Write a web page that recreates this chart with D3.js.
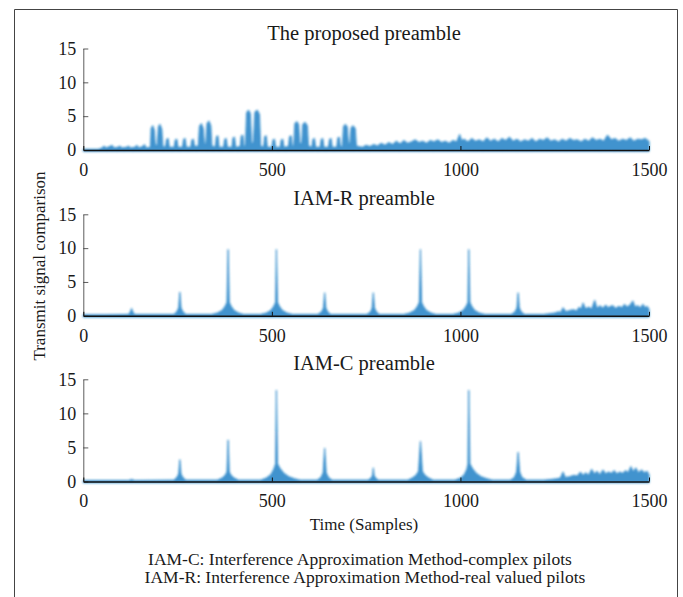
<!DOCTYPE html>
<html>
<head>
<meta charset="utf-8">
<script src="https://cdn.jsdelivr.net/npm/d3@7"></script>
<style>
  body { margin: 0; background: #fff; }
  svg text { font-family: "Liberation Serif", "DejaVu Serif", serif; fill: #1a1a1a; }
</style>
</head>
<body>
<div id="chart"></div>
<script>
// envelope of |signal|, [sample, amplitude]
const proposed = [
  [0,0.1],[40,0.1],[50,0.3],[55,0.6],[60,0.3],[70,0.5],[76,0.7],[82,0.3],[92,0.4],[97,0.6],[102,0.3],
  [115,0.4],[120,0.6],[125,0.3],[137,0.4],[142,0.7],[147,0.3],[157,0.5],[162,0.8],[167,0.3],
  [178,0.4],[180,3.2],[184,3.6],[188,3.0],[191,0.8],[196,0.6],[199,3.4],[203,3.8],[208,3.1],[211,0.5],
  [218,0.4],[221,1.6],[225,1.7],[228,0.4],[241,0.4],[244,1.5],[248,1.6],[251,0.4],
  [263,0.4],[266,1.6],[270,1.7],[273,0.4],[285,0.4],[288,1.5],[292,1.6],[295,0.5],
  [305,0.6],[308,3.5],[313,3.9],[318,3.2],[321,1.0],[325,0.8],[328,3.9],[333,4.3],[338,3.6],[341,0.6],
  [350,0.4],[353,2.0],[357,2.1],[360,0.4],[372,0.4],[375,1.6],[379,1.7],[382,0.4],
  [394,0.4],[397,1.8],[401,1.9],[404,0.4],[416,0.5],[419,2.1],[423,2.2],[426,0.5],
  [430,0.6],[433,5.5],[438,5.9],[443,5.4],[446,1.2],[451,0.9],[455,5.6],[461,5.9],[467,5.3],[470,0.6],
  [478,0.4],[481,2.0],[485,2.1],[488,0.4],[500,0.4],[503,1.5],[507,1.6],[510,0.4],
  [522,0.4],[525,1.5],[529,1.6],[532,0.4],[544,0.5],[547,2.0],[551,2.1],[554,0.5],
  [558,0.6],[561,3.9],[566,4.2],[571,3.8],[574,1.0],[579,0.9],[582,3.8],[588,4.1],[594,3.6],[597,0.6],
  [606,0.4],[609,1.6],[613,1.7],[616,0.4],[628,0.4],[631,1.6],[635,1.7],[638,0.4],
  [650,0.4],[653,1.6],[657,1.7],[660,0.4],[672,0.4],[675,1.8],[679,1.9],[682,0.4],
  [687,0.6],[690,3.5],[695,3.8],[700,3.4],[703,1.0],[707,0.9],[710,3.3],[715,3.6],[721,3.2],[724,0.6],
  [730,0.5],[740,0.4],[750,0.7],[760,0.5],[770,0.8],[780,0.6],[790,1.0],[800,0.7],[810,1.1],[820,0.8],
  [830,1.3],[840,0.9],[850,1.4],[860,1.0],[870,1.2],[880,1.5],[890,1.1],[900,1.3],[910,1.0],[920,1.4],
  [930,1.2],[940,1.5],[950,1.1],[960,1.3],[970,1.0],[980,1.4],[990,1.2],[998,2.3],[1003,1.4],[1010,1.6],
  [1020,1.2],[1030,1.7],[1040,1.3],[1050,1.5],[1060,1.2],[1070,1.8],[1080,1.3],[1090,1.6],[1100,1.2],
  [1110,1.7],[1120,1.4],[1130,1.9],[1140,1.3],[1150,1.6],[1160,1.2],[1170,1.5],[1180,1.3],[1190,1.7],
  [1200,1.2],[1210,1.6],[1220,1.4],[1230,1.8],[1240,1.3],[1250,1.5],[1260,1.2],[1270,1.6],[1280,1.3],
  [1290,1.7],[1300,1.4],[1310,1.5],[1320,1.2],[1330,1.6],[1340,1.3],[1350,1.8],[1360,1.4],[1370,1.6],
  [1380,1.3],[1390,2.2],[1400,1.5],[1410,1.7],[1420,1.3],[1430,1.6],[1440,1.4],[1450,1.8],[1460,1.3],
  [1470,1.6],[1480,1.5],[1490,1.7],[1500,1.3]
];

const iamR = [
  [0,0.15],[60,0.15],[120,0.2],[125,0.6],[128,1.1],[131,0.6],[136,0.2],
  [240,0.2],[248,0.6],[253,1.2],[256,3.5],[259,1.2],[264,0.6],[272,0.2],
  [340,0.2],[355,0.4],[368,0.8],[376,1.4],[381,2.0],[384,9.8],[387,2.0],[392,1.4],[400,0.8],[412,0.4],[425,0.2],
  [470,0.2],[485,0.4],[497,0.8],[505,1.4],[510,2.0],[512,9.8],[515,2.0],[520,1.4],[528,0.8],[540,0.4],[555,0.2],
  [622,0.2],[632,0.6],[637,1.2],[640,3.4],[643,1.2],[648,0.6],[656,0.2],
  [752,0.2],[762,0.6],[766,1.2],[769,3.4],[772,1.2],[777,0.6],[785,0.2],
  [850,0.2],[865,0.4],[878,0.8],[886,1.4],[891,2.0],[894,9.8],[897,2.0],[902,1.4],[910,0.8],[922,0.4],[935,0.2],
  [980,0.2],[995,0.4],[1007,0.8],[1015,1.4],[1020,2.0],[1022,9.8],[1025,2.0],[1030,1.4],[1038,0.8],[1050,0.4],[1065,0.2],
  [1135,0.2],[1145,0.6],[1150,1.2],[1153,3.4],[1156,1.2],[1161,0.6],[1170,0.2],
  [1220,0.2],[1235,0.3],[1250,0.4],[1260,0.6],[1266,0.5],[1272,1.2],[1280,0.6],[1290,0.8],[1300,0.9],
  [1308,0.7],[1315,1.3],[1320,0.9],[1325,1.9],[1332,1.0],[1340,1.3],[1348,1.0],[1356,2.3],[1362,1.1],
  [1370,1.5],[1378,1.1],[1385,1.6],[1392,1.2],[1398,1.4],[1404,1.5],[1412,1.1],[1420,1.4],[1428,1.2],
  [1435,1.7],[1442,1.3],[1450,1.6],[1457,2.2],[1463,1.3],[1470,1.5],[1477,1.2],[1484,1.7],[1490,1.2],
  [1495,1.4],[1500,1.0]
];

const iamC = [
  [0,0.15],[120,0.15],[128,0.3],[136,0.15],
  [240,0.2],[248,0.6],[253,1.1],[256,3.2],[259,1.1],[264,0.6],[272,0.2],
  [355,0.2],[368,0.5],[376,0.9],[381,1.4],[384,6.1],[387,1.4],[392,0.9],[400,0.5],[412,0.2],
  [470,0.2],[485,0.5],[497,1.0],[505,1.8],[510,2.6],[512,13.4],[515,2.6],[522,1.9],[532,1.2],[545,0.7],[560,0.4],[575,0.2],
  [620,0.2],[630,0.6],[636,1.3],[640,4.9],[644,1.3],[650,0.6],[660,0.2],
  [755,0.2],[763,0.5],[767,0.9],[769,2.0],[771,0.9],[775,0.5],[783,0.2],
  [860,0.2],[872,0.5],[882,0.9],[889,1.5],[894,5.9],[899,1.5],[906,0.9],[916,0.5],[928,0.2],
  [985,0.2],[1000,0.5],[1010,1.0],[1017,1.8],[1020,2.6],[1022,13.4],[1025,2.6],[1032,1.9],[1042,1.2],[1055,0.7],[1070,0.4],[1085,0.2],
  [1132,0.2],[1143,0.6],[1149,1.4],[1153,4.3],[1157,1.4],[1163,0.6],[1175,0.2],
  [1220,0.2],[1240,0.3],[1255,0.4],[1265,0.5],[1272,1.4],[1278,0.6],[1290,0.7],[1300,0.9],[1310,0.8],
  [1318,1.4],[1325,0.9],[1333,1.3],[1340,0.9],[1348,1.8],[1355,1.1],[1362,1.5],[1370,1.0],[1378,1.7],
  [1385,1.1],[1392,1.4],[1400,1.2],[1408,1.6],[1415,1.1],[1422,1.4],[1430,1.2],[1438,1.6],[1445,1.3],
  [1452,2.2],[1458,1.4],[1465,2.0],[1472,1.3],[1480,1.7],[1488,1.3],[1495,1.5],[1500,1.0]
];

const panelTitles = ["The proposed preamble", "IAM-R preamble", "IAM-C preamble"];
const xTicks = [0, 500, 1000, 1500];
const yTicks = [0, 5, 10, 15];
const footnotes = [
  "IAM-C: Interference Approximation Method-complex pilots",
  "IAM-R: Interference Approximation Method-real valued pilots"
];

const width = 683, height = 597;
const sigColor = "#1f80c6";
const serif = '"Liberation Serif", "DejaVu Serif", serif';

const svg = d3.select("#chart").append("svg")
  .attr("width", width)
  .attr("height", height);

const defs = svg.append("defs");
defs.append("filter").attr("id", "fuzz")
  .attr("x", "-5%").attr("y", "-20%").attr("width", "110%").attr("height", "140%")
  .append("feGaussianBlur").attr("stdDeviation", 1.0);

// frame (left, top, right)
svg.append("path")
  .attr("d", "M14.5,597V9.5H677.5V597")
  .attr("fill", "none")
  .attr("stroke", "#444")
  .attr("stroke-width", 1);

const x = d3.scaleLinear().domain([0, 1500]).range([83.3, 649]);

const panels = [
  { data: proposed, top: 48.5, bottom: 150 },
  { data: iamR, top: 214.3, bottom: 315.8 },
  { data: iamC, top: 379.3, bottom: 481.5 }
];

panels.forEach((p, i) => {
  const y = d3.scaleLinear().domain([0, 15]).range([p.bottom, p.top]);
  const g = svg.append("g");

  const area = d3.area()
    .x(d => x(d[0]))
    .y0(y(0) + 1.2)
    .y1(d => y(d[1]));

  const sig = g.append("g").attr("filter", "url(#fuzz)");
  sig.append("path")
    .attr("d", area(p.data))
    .attr("fill", sigColor)
    .attr("fill-opacity", 0.85)
    .attr("stroke", sigColor)
    .attr("stroke-width", 0.8);

  const yAxis = g.append("g")
    .attr("transform", `translate(${x(0)},0)`)
    .attr("font-family", serif)
    .call(d3.axisLeft(y).tickValues(yTicks).tickFormat(d3.format("d"))
      .tickSizeInner(-5).tickSizeOuter(0).tickPadding(7));
  yAxis.select(".domain").attr("stroke", "#333").attr("stroke-width", 0.8);
  yAxis.selectAll(".tick line").attr("stroke", "#333").attr("stroke-width", 0.8);
  yAxis.selectAll("text").attr("font-size", 18).style("font-family", serif).attr("fill", "#1a1a1a");

  const xAxis = g.append("g")
    .attr("transform", `translate(0,${y(0)})`)
    .attr("font-family", serif)
    .call(d3.axisBottom(x).tickValues(xTicks).tickFormat(d3.format("d"))
      .tickSizeInner(-4).tickSizeOuter(0).tickPadding(13));
  xAxis.select(".domain").attr("stroke", "#111").attr("stroke-width", 1.4);
  xAxis.selectAll(".tick line").attr("stroke", "#111");
  xAxis.selectAll("text").attr("font-size", 18).style("font-family", serif).attr("fill", "#1a1a1a");

  g.append("text")
    .attr("x", 364)
    .attr("y", p.top - 9)
    .attr("text-anchor", "middle")
    .attr("font-size", 20.5)
    .text(panelTitles[i]);
});

svg.append("text")
  .attr("x", 364)
  .attr("y", 530)
  .attr("text-anchor", "middle")
  .attr("font-size", 17)
  .text("Time (Samples)");

svg.append("text")
  .attr("transform", "translate(45,266) rotate(-90)")
  .attr("text-anchor", "middle")
  .attr("font-size", 17)
  .text("Transmit signal comparison");

svg.selectAll(".foot")
  .data(footnotes)
  .join("text")
  .attr("class", "foot")
  .attr("x", (d, i) => i === 0 ? 360 : 365)
  .attr("y", (d, i) => 565 + i * 18)
  .attr("text-anchor", "middle")
  .attr("font-size", 17.5)
  .text(d => d);
</script>
</body>
</html>
